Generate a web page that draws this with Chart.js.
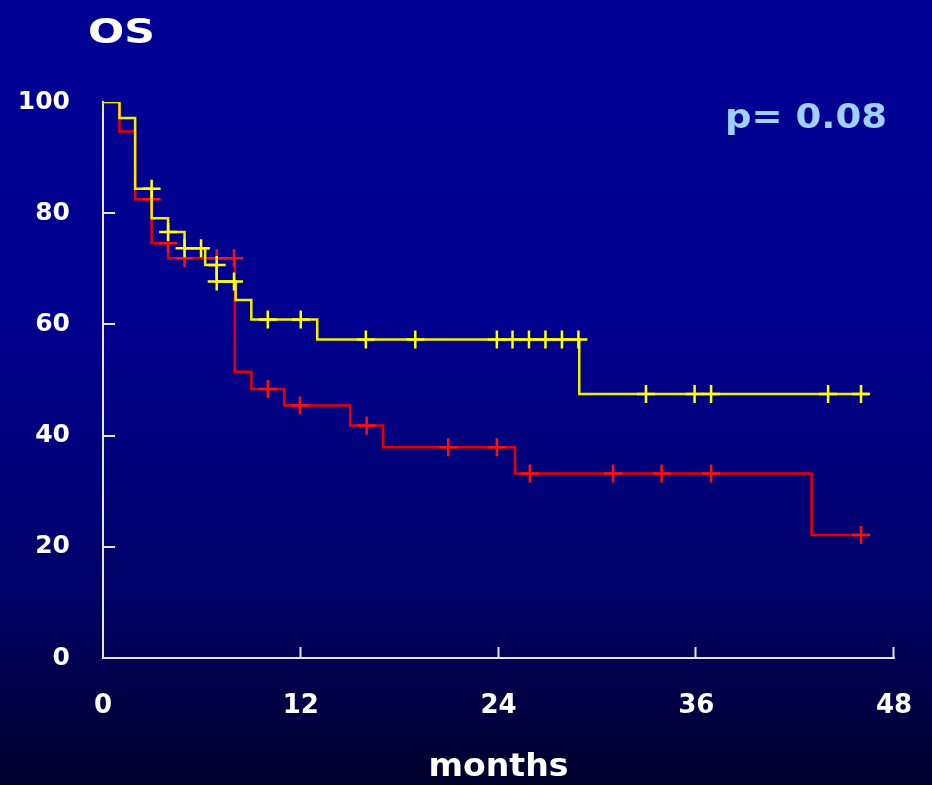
<!DOCTYPE html>
<html>
<head>
<meta charset="utf-8">
<script src="https://cdn.jsdelivr.net/npm/chart.js@4/dist/chart.umd.min.js"></script>
<style>
  html, body { margin: 0; padding: 0; background: #000070; }
  #wrap { width: 932px; height: 785px; }
</style>
</head>
<body>
<div id="wrap"><canvas id="km" width="932" height="785"></canvas></div>
<script>
// Overall survival (%) by month, Kaplan-Meier steps for both arms
const yellowStepMonths = [0, 1.0, 1.95, 2.95, 3.95, 4.95, 6.2, 6.9, 8.05, 9.0, 13.0, 28.9, 46.5];
const yellowStepSurv   = [100, 97.1, 84.4, 79.1, 76.6, 73.7, 70.7, 67.7, 64.4, 60.9, 57.3, 47.5, 47.5];
const yellowCensorMonths = [2.95, 3.95, 4.95, 5.95, 6.9, 6.9, 7.95, 10.0, 12.0, 15.95, 18.95, 23.9, 24.85, 25.85, 26.85, 27.85, 28.85, 32.95, 35.9, 36.9, 44.0, 46.0];
const yellowCensorSurv   = [84.4, 76.6, 73.7, 73.7, 70.7, 67.7, 67.7, 60.9, 60.9, 57.3, 57.3, 57.3, 57.3, 57.3, 57.3, 57.3, 57.3, 47.5, 47.5, 47.5, 47.5, 47.5];

const redStepMonths = [0, 1.0, 1.95, 2.95, 3.95, 8.0, 9.0, 11.0, 15.0, 17.0, 25.0, 43.0, 46.5];
const redStepSurv   = [100, 94.7, 82.5, 74.6, 71.9, 51.5, 48.4, 45.4, 41.8, 37.9, 33.2, 22.1, 22.1];
const redCensorMonths = [2.95, 3.95, 4.95, 6.9, 7.95, 10.0, 11.95, 16.0, 20.95, 23.9, 25.9, 30.95, 33.9, 36.9, 46.0];
const redCensorSurv   = [82.5, 74.6, 71.9, 71.9, 71.9, 48.4, 45.4, 41.8, 37.9, 37.9, 33.2, 33.2, 33.2, 33.2, 22.1];

const xTicks = [0, 12, 24, 36, 48];
const yTicks = [0, 20, 40, 60, 80, 100];

const titleText = 'OS';
const pValueText = 'p= 0.08';
const xAxisTitle = 'months';

const pts = (xs, ys) => xs.map((x, i) => ({ x: x, y: ys[i] }));

const FONT = '"DejaVu Sans", "Liberation Sans", sans-serif';
const AXIS_COLOR = '#e4e4f2';

// Gradient backdrop behind the whole canvas
const backdrop = {
  id: 'backdrop',
  beforeDraw(chart) {
    const { ctx, width, height } = chart;
    const g = ctx.createLinearGradient(0, 0, 0, height);
    g.addColorStop(0, '#000094');
    g.addColorStop(0.42, '#00008e');
    g.addColorStop(0.75, '#000068');
    g.addColorStop(1, '#00002c');
    ctx.save();
    ctx.fillStyle = g;
    ctx.fillRect(0, 0, width, height);
    ctx.restore();
  }
};

// Inward tick marks on both axes plus the headline texts
const decorations = {
  id: 'decorations',
  afterDraw(chart) {
    const { ctx, chartArea } = chart;
    const xs = chart.scales.x, ys = chart.scales.y;
    ctx.save();
    ctx.strokeStyle = AXIS_COLOR;
    ctx.lineWidth = 2;
    ctx.beginPath();
    xTicks.slice(1).forEach(v => {
      const px = Math.round(xs.getPixelForValue(v)) - 0.5;
      ctx.moveTo(px, chartArea.bottom + 1);
      ctx.lineTo(px, chartArea.bottom - 11);
    });
    yTicks.slice(1, -1).forEach(v => {
      const py = Math.round(ys.getPixelForValue(v));
      ctx.moveTo(chartArea.left, py);
      ctx.lineTo(chartArea.left + 12, py);
    });
    ctx.stroke();

    const drawText = (txt, left, baseline, size, width, color) => {
      ctx.font = 'bold ' + size + 'px ' + FONT;
      const w = ctx.measureText(txt).width;
      ctx.save();
      ctx.translate(left, baseline);
      ctx.scale(width / w, 1);
      ctx.fillStyle = color;
      ctx.textBaseline = 'alphabetic';
      ctx.textAlign = 'left';
      ctx.fillText(txt, 0, 0);
      ctx.restore();
    };
    drawText(titleText, 88, 43, 34, 67, '#ffffff');
    drawText(pValueText, 725, 128, 34, 162, '#9fd0ff');
    const cx = (chartArea.left + chartArea.right) / 2;
    drawText(xAxisTitle, cx - 70, 776, 32, 140, '#ffffff');
    ctx.restore();
  }
};

const stepLine = (label, xs, ys, color, order) => ({
  type: 'line', label, data: pts(xs, ys), order,
  stepped: 'before', borderColor: color, borderWidth: 2.5,
  pointRadius: 0, fill: false, tension: 0
});
const censorMarks = (label, xs, ys, color, order) => ({
  type: 'line', label, data: pts(xs, ys), order,
  showLine: false, pointStyle: 'cross', pointRadius: 9,
  pointBorderWidth: 2.5, pointBorderColor: color, pointBackgroundColor: color
});

new Chart(document.getElementById('km'), {
  data: {
    datasets: [
      censorMarks('yellow censored', yellowCensorMonths, yellowCensorSurv, '#ffff00', 0),
      stepLine('yellow', yellowStepMonths, yellowStepSurv, '#f2f000', 1),
      censorMarks('red censored', redCensorMonths, redCensorSurv, '#ff1010', 2),
      stepLine('red', redStepMonths, redStepSurv, '#e80000', 3)
    ]
  },
  options: {
    responsive: false,
    animation: false,
    layout: { padding: { left: 0, right: 38, top: 102, bottom: 0 } },
    plugins: { legend: { display: false }, tooltip: { enabled: false }, title: { display: false } },
    scales: {
      x: {
        type: 'linear', min: 0, max: 48,
        afterBuildTicks: s => { s.ticks = xTicks.map(v => ({ value: v })); },
        afterFit: s => { s.height = 127; },
        grid: { display: false, drawTicks: true, tickLength: 30 },
        border: { display: true, color: AXIS_COLOR, width: 2 },
        ticks: { color: '#ffffff', padding: 3, maxRotation: 0, font: { family: FONT, size: 26, weight: 'bold' } }
      },
      y: {
        type: 'linear', min: 0, max: 100,
        afterBuildTicks: s => { s.ticks = yTicks.map(v => ({ value: v })); },
        afterFit: s => { s.width = 103; },
        grid: { display: false, drawTicks: false },
        border: { display: true, color: AXIS_COLOR, width: 2 },
        ticks: { color: '#ffffff', padding: 33, font: { family: FONT, size: 25, weight: 'bold' } }
      }
    }
  },
  plugins: [backdrop, decorations]
});
</script>
</body>
</html>
